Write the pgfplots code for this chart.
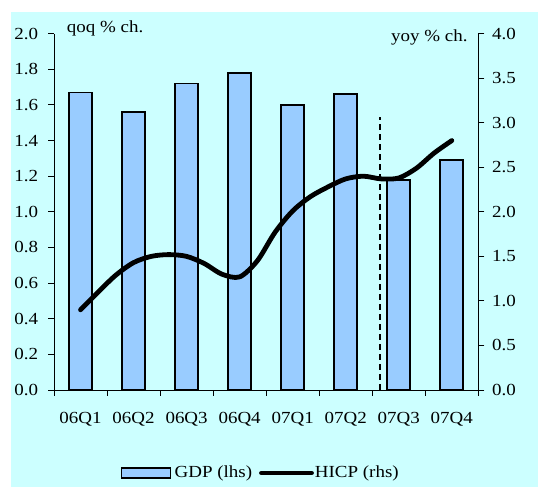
\documentclass[border=0pt]{standalone}
\usepackage{pgfplots}
\pgfplotsset{compat=1.18}
\usepackage{fontspec}
\setmainfont{Liberation Serif}[FakeStretch=1.12]

\definecolor{bgcyan}{HTML}{CCFFFF}
\definecolor{barblue}{HTML}{99CCFF}

\begin{document}
\fontsize{17pt}{20pt}\selectfont
\begin{tikzpicture}[x=1bp,y=1bp]
\useasboundingbox (0,0) rectangle (538,487);
\fill[white] (0,0) rectangle (538,487);
\fill[bgcyan] (11,0) rectangle (538,475);

% left axis: quarterly GDP growth (bars)
\begin{axis}[
  at={(54bp,97bp)}, anchor=south west,
  scale only axis, width=424.3bp, height=356.3bp,
  xmin=-0.5, xmax=7.5, ymin=0, ymax=2,
  axis x line*=bottom, axis y line*=left,
  axis line style={black, line width=0.9bp},
  tick style={black, line width=0.9bp},
  tick align=outside,
  major tick length=6bp, minor tick length=6bp,
  xtick={0,1,2,3,4,5,6,7},
  xticklabels={06Q1,06Q2,06Q3,06Q4,07Q1,07Q2,07Q3,07Q4},
  major x tick style={draw=none},
  minor xtick={-0.5,0.5,1.5,2.5,3.5,4.5,5.5,6.5,7.5},
  ytick={0,0.2,0.4,0.6,0.8,1.0,1.2,1.4,1.6,1.8,2.0},
  /pgf/number format/fixed, /pgf/number format/fixed zerofill,
  /pgf/number format/precision=1,
  /pgf/number format/assume math mode=true,
  yticklabel style={xshift=-4bp},
  xticklabel style={yshift=-10bp},
  clip=false,
]
\addplot[ybar, bar width=23bp, fill=barblue, draw=black, line width=1.6bp]
  coordinates {(0,1.67) (1,1.56) (2,1.72) (3,1.78) (4,1.60) (5,1.66) (6,1.18) (7,1.29)};
\addplot[black, line width=1.6bp, dash pattern=on 6bp off 4bp]
  coordinates {(5.65,0) (5.65,1.53)};
\end{axis}

% right axis: annual HICP inflation (line)
\begin{axis}[
  at={(54bp,97bp)}, anchor=south west,
  scale only axis, width=424.3bp, height=356.3bp,
  xmin=-0.5, xmax=7.5, ymin=0, ymax=4,
  axis x line=none, axis y line*=right,
  axis line style={black, line width=0.9bp},
  tick style={black, line width=0.9bp},
  tick align=outside, major tick length=6bp,
  ytick={0,0.5,1.0,1.5,2.0,2.5,3.0,3.5,4.0},
  /pgf/number format/fixed, /pgf/number format/fixed zerofill,
  /pgf/number format/precision=1,
  /pgf/number format/assume math mode=true,
  yticklabel style={xshift=2bp},
  clip=false,
  legend columns=2,
  legend style={at={(0.486,-0.233)}, anchor=center, draw=none, fill=none,
    inner sep=0pt, nodes={inner xsep=1bp},
    /tikz/every even column/.append style={column sep=6bp}},
]
\addlegendimage{legend image code/.code={
  \draw[fill=barblue, draw=black, line width=1.5bp] (0bp,-5bp) rectangle (49bp,5bp);
  \path (52bp,0bp);}}
\addlegendentry{GDP (lhs)}
\addplot[black, line width=4.8bp, line cap=round, smooth,
  legend image code/.code={\draw[black, line width=4.8bp, line cap=round] (2bp,0bp) -- (52bp,0bp);}]
  coordinates {(0,0.90) (0.333,1.10) (0.667,1.29) (1,1.43) (1.333,1.50) (1.667,1.52)
    (2,1.50) (2.333,1.42) (2.667,1.30) (3,1.27) (3.333,1.45) (3.667,1.77)
    (4,2.01) (4.333,2.17) (4.667,2.28) (5,2.37) (5.333,2.40) (5.667,2.37)
    (6,2.38) (6.333,2.49) (6.667,2.66) (7,2.80)};
\addlegendentry{HICP (rhs)}
\end{axis}

\node[anchor=base west, inner sep=0pt] at (66.7,454) {qoq \% ch.};
\node[anchor=base east, inner sep=0pt] at (467.7,445.5) {yoy \% ch.};
\end{tikzpicture}
\end{document}
